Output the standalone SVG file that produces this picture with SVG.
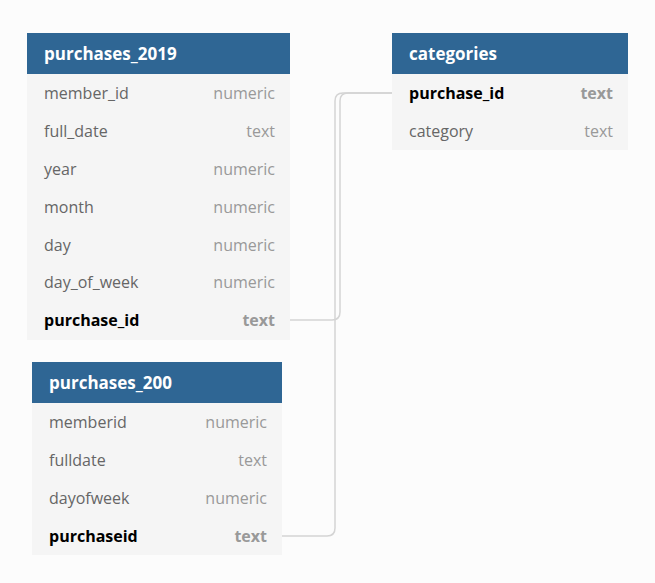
<svg xmlns="http://www.w3.org/2000/svg" width="655" height="583" viewBox="0 0 655 583">
<style>
.hdr{fill:#2f6694}
.row{fill:#f5f5f5}
.ht{font-family:"Open Sans",sans-serif;font-weight:bold;font-size:17px;fill:#ffffff}
.fn{font-family:"Open Sans",sans-serif;font-size:16px;fill:#666666}
.ft{font-family:"Open Sans",sans-serif;font-size:16px;fill:#999999;text-anchor:end}
.pk{font-weight:bold;fill:#000000}
.pkt{font-weight:bold;fill:#999999}
.conn{fill:none;stroke:#d4d4d4;stroke-width:1.5}
</style>
<rect width="655" height="583" fill="#fcfcfc"/>
<g id="connectors">
<path class="conn" d="M290,320 H332 Q340,320 340,312 V101 Q340,93 348,93 H392"/>
<path class="conn" d="M282,536 H327 Q335,536 335,528 V101 Q335,93 343,93 H392"/>
</g>
<g id="purchases_2019">
<rect class="row" x="27" y="74" width="263" height="266"/>
<rect class="hdr" x="27" y="33" width="263" height="41"/>
<text class="ht" x="44" y="60">purchases_2019</text>
<text class="fn" x="44" y="99">member_id</text><text class="ft" x="275" y="99">numeric</text>
<text class="fn" x="44" y="137">full_date</text><text class="ft" x="275" y="137">text</text>
<text class="fn" x="44" y="175">year</text><text class="ft" x="275" y="175">numeric</text>
<text class="fn" x="44" y="213">month</text><text class="ft" x="275" y="213">numeric</text>
<text class="fn" x="44" y="251">day</text><text class="ft" x="275" y="251">numeric</text>
<text class="fn" x="44" y="288">day_of_week</text><text class="ft" x="275" y="288">numeric</text>
<text class="fn pk" x="44" y="326">purchase_id</text><text class="ft pkt" x="275" y="326">text</text>
</g>
<g id="purchases_200">
<rect class="row" x="32" y="403" width="250" height="152"/>
<rect class="hdr" x="32" y="362" width="250" height="41"/>
<text class="ht" x="49" y="389">purchases_200</text>
<text class="fn" x="49" y="428">memberid</text><text class="ft" x="267" y="428">numeric</text>
<text class="fn" x="49" y="466">fulldate</text><text class="ft" x="267" y="466">text</text>
<text class="fn" x="49" y="504">dayofweek</text><text class="ft" x="267" y="504">numeric</text>
<text class="fn pk" x="49" y="542">purchaseid</text><text class="ft pkt" x="267" y="542">text</text>
</g>
<g id="categories">
<rect class="row" x="392" y="74" width="236" height="76"/>
<rect class="hdr" x="392" y="33" width="236" height="41"/>
<text class="ht" x="409" y="60">categories</text>
<text class="fn pk" x="409" y="99">purchase_id</text><text class="ft pkt" x="613" y="99">text</text>
<text class="fn" x="409" y="137">category</text><text class="ft" x="613" y="137">text</text>
</g>
</svg>
